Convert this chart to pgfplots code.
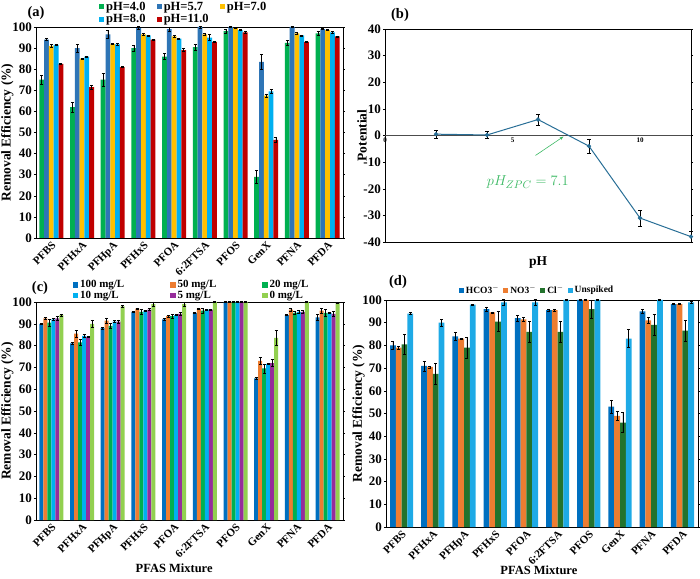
\documentclass[border=0pt]{standalone}
\usepackage{fontspec}
\setmainfont{Liberation Serif}
\usepackage{pgfplots}
\pgfplotsset{compat=1.18}
\usetikzlibrary{arrows.meta}

\definecolor{cGreen}{RGB}{0,176,80}
\definecolor{cBlue}{RGB}{46,117,182}
\definecolor{cGold}{RGB}{255,192,0}
\definecolor{cLBlue}{RGB}{0,176,240}
\definecolor{cRed}{RGB}{192,0,0}
\definecolor{dBlue}{RGB}{0,112,192}
\definecolor{dOrange}{RGB}{237,125,49}
\definecolor{dPurple}{RGB}{150,45,155}
\definecolor{dLGreen}{RGB}{146,208,80}
\definecolor{dDGreen}{RGB}{35,115,45}
\definecolor{dUnsp}{RGB}{30,170,230}
\definecolor{lineB}{RGB}{40,110,150}
\definecolor{zpc}{RGB}{60,185,100}

\pgfplotsset{
  sqlegend/.style={legend image code/.code={\fill[##1] (0pt,-2.6pt) rectangle (5.2pt,2.6pt);}},
  mybar/.style={
    scale only axis,
    ybar=0pt,
    ymin=0, ymax=100, ytick={0,10,...,100},
    xmin=-0.5, xmax=9.5, xtick={0,...,9},
    xticklabels={PFBS,PFHxA,PFHpA,PFHxS,PFOA,6:2FTSA,PFOS,GenX,PFNA,PFDA},
    xticklabel style={rotate=45, anchor=north east, inner sep=0.5pt, font=\fontsize{11}{12}\selectfont\bfseries},
    yticklabel style={font=\fontsize{13}{14}\selectfont\bfseries, inner sep=2pt},
    /pgf/number format/assume math mode=true,
    xtick style={draw=none},
    ytick style={black, thin}, tick align=outside, major tick length=2pt,
    axis line style={black, line width=0.8pt},
    clip=false,
    error bars/y dir=both, error bars/y explicit,
    error bars/error bar style={black, line width=0.6pt},
    error bars/error mark options={black, rotate=90, mark size=1.5pt, line width=0.6pt},
    every axis plot/.append style={sqlegend, draw=none},
    legend style={draw=none, fill=none, inner sep=0pt, outer sep=0pt},
    legend cell align=left,
  },
}

\begin{document}
\begin{tikzpicture}[x=1pt,y=1pt]
\useasboundingbox (0pt,0pt) rectangle (700pt,578pt);

% ---------------- (a)
\begin{axis}[mybar, at={(36pt,340pt)}, anchor=south west, width=307pt, height=211pt,
  bar width=4.8pt,
  ylabel={Removal Efficiency (\%)},
  ylabel style={at={(rel axis cs:-0.093,0.5)}, anchor=center, font=\fontsize{13.5}{14}\selectfont\bfseries},
  legend columns=3,
  legend style={at={(0.205,1.128)}, anchor=north west, font=\fontsize{12.5}{13}\selectfont\bfseries,
    /tikz/every even column/.append style={column sep=9pt}, row sep=-1.5pt},
]
\addplot[fill=cGreen] coordinates {(0,75)+-(0,2) (1,62)+-(0,2.5) (2,75)+-(0,3) (3,90)+-(0,1.3) (4,86)+-(0,1.3) (5,90.5)+-(0,1.5) (6,98)+-(0,0.8) (7,29)+-(0,3) (8,92.5)+-(0,1.3) (9,97)+-(0,0.8)};
\addplot[fill=cBlue] coordinates {(0,94)+-(0,0.5) (1,90)+-(0,1.8) (2,96.5)+-(0,1.8) (3,99.5)+-(0,0.8) (4,99)+-(0,1) (5,100)+-(0,0.5) (6,100)+-(0,0.3) (7,83.5)+-(0,3.5) (8,100)+-(0,0.3) (9,99)+-(0,0.3)};
\addplot[fill=cGold] coordinates {(0,91)+-(0,0.6) (1,85)+-(0,0.3) (2,92)+-(0,0.3) (3,96.5)+-(0,0.5) (4,95.5)+-(0,0.6) (5,96.5)+-(0,0.6) (6,99.5)+-(0,0.3) (7,67.5)+-(0,0.8) (8,97)+-(0,0.5) (9,98.5)+-(0,0.3)};
\addplot[fill=cLBlue] coordinates {(0,91.5)+-(0,0.3) (1,86)+-(0,0.3) (2,91.8)+-(0,0.3) (3,96)+-(0,0.3) (4,94.5)+-(0,0.3) (5,95)+-(0,1.5) (6,98.5)+-(0,0.3) (7,69.5)+-(0,0.8) (8,96)+-(0,0.3) (9,97.5)+-(0,0.5)};
\addplot[fill=cRed] coordinates {(0,82.5)+-(0,0.3) (1,71.5)+-(0,1) (2,81)+-(0,0.3) (3,94)+-(0,0.3) (4,89)+-(0,0.7) (5,93)+-(0,0.3) (6,97.5)+-(0,0.3) (7,46.5)+-(0,1.2) (8,93)+-(0,0.3) (9,95.5)+-(0,0.3)};
\legend{pH=4.0,pH=5.7,pH=7.0,pH=8.0,pH=11.0}
\end{axis}
\node[font=\fontsize{14.5}{15}\selectfont\bfseries] at (36pt,565pt) {(a)};

% ---------------- (b)
\begin{axis}[scale only axis, at={(385pt,336pt)}, anchor=south west, width=306pt, height=213pt,
  xmin=0, xmax=12, ymin=-40, ymax=40, ytick={-40,-30,...,40}, xtick={0,5,10}, xticklabels={},
  xtick style={draw=none},
  yticklabel style={font=\fontsize{13}{14}\selectfont\bfseries, inner sep=2pt},
  /pgf/number format/assume math mode=true,
  ytick style={black, thin}, tick align=outside, major tick length=2pt,
  axis line style={black, line width=0.8pt},
  clip=false,
  xlabel={pH}, ylabel={Potential},
  xlabel style={at={(rel axis cs:0.5,0)}, anchor=center, yshift=-21pt, font=\fontsize{13.5}{14}\selectfont\bfseries},
  ylabel style={at={(rel axis cs:-0.075,0.5)}, anchor=center, font=\fontsize{13.5}{14}\selectfont\bfseries},
]
\addplot[color=black!70, line width=1.3pt, forget plot] coordinates {(0,0) (12,0)};
\addplot[color=lineB, line width=1pt, mark=*, mark size=1.6pt, mark options={fill=lineB},
  error bars/.cd, y dir=both, y explicit,
  error bar style={black, line width=0.6pt},
  error mark options={black, rotate=90, mark size=1.8pt, line width=0.6pt}]
  coordinates {(2,0.5)+-(0,1.5) (4,0.2)+-(0,1.3) (6,6)+-(0,2) (8,-4)+-(0,2.5) (10,-31)+-(0,3) (12,-38)+-(0,2)};
\node[anchor=north, font=\fontsize{7}{8}\selectfont\bfseries, inner sep=2pt] at (axis cs:0,0) {0};
\node[anchor=north, font=\fontsize{7}{8}\selectfont\bfseries, inner sep=2pt] at (axis cs:5,0) {5};
\node[anchor=north, font=\fontsize{7}{8}\selectfont\bfseries, inner sep=2pt] at (axis cs:10,0) {10};
\draw[-{Stealth[length=4pt]}, zpc, line width=0.6pt] (axis cs:5.9,-7.5) -- (axis cs:7.0,-0.4);
\node[text=zpc, font=\fontsize{15}{16}\selectfont] at (axis cs:5.6,-17.5) {$pH_{ZPC}=7.1$};
\end{axis}
\node[font=\fontsize{14.5}{15}\selectfont\bfseries] at (400pt,563pt) {(b)};

% ---------------- (c)
\begin{axis}[mybar, at={(36pt,58pt)}, anchor=south west, width=307pt, height=218pt,
  bar width=4pt,
  ylabel={Removal Efficiency (\%)},
  ylabel style={at={(rel axis cs:-0.093,0.5)}, anchor=center, font=\fontsize{13.5}{14}\selectfont\bfseries},
  xlabel={PFAS Mixture},
  xlabel style={at={(rel axis cs:0.45,0)}, anchor=center, yshift=-48pt, font=\fontsize{12.5}{13}\selectfont\bfseries},
  legend columns=3,
  legend style={at={(0.12,1.107)}, anchor=north west, font=\fontsize{11}{11}\selectfont\bfseries,
    /tikz/every even column/.append style={column sep=44pt}, row sep=-2pt},
]
\addplot[fill=dBlue] coordinates {(0,90)+-(0,0.3) (1,81)+-(0,0.3) (2,88)+-(0,0.3) (3,95.5)+-(0,0.3) (4,92)+-(0,0.3) (5,95)+-(0,0.3) (6,100)+-(0,0.2) (7,65)+-(0,0.5) (8,94)+-(0,0.3) (9,93)+-(0,1.2)};
\addplot[fill=dOrange] coordinates {(0,92.5)+-(0,0.5) (1,85.5)+-(0,1.5) (2,91.5)+-(0,1.2) (3,97)+-(0,0.3) (4,93.5)+-(0,0.5) (5,97)+-(0,0.3) (6,100)+-(0,0.2) (7,73)+-(0,1.5) (8,96.5)+-(0,0.8) (9,96)+-(0,1)};
\addplot[fill=cGreen] coordinates {(0,90.5)+-(0,1.5) (1,81.5)+-(0,1.2) (2,89)+-(0,1.2) (3,95.5)+-(0,1.2) (4,93.5)+-(0,0.8) (5,96)+-(0,1) (6,100)+-(0,0.2) (7,69.5)+-(0,2) (8,95)+-(0,0.8) (9,95)+-(0,1.5)};
\addplot[fill=cLBlue] coordinates {(0,92)+-(0,0.3) (1,84.5)+-(0,0.5) (2,91)+-(0,0.5) (3,96)+-(0,0.3) (4,94)+-(0,0.3) (5,96.5)+-(0,0.3) (6,100)+-(0,0.2) (7,71.5)+-(0,0.3) (8,95.5)+-(0,0.8) (9,95)+-(0,0.3)};
\addplot[fill=dPurple] coordinates {(0,92.5)+-(0,0.8) (1,84)+-(0,0.3) (2,91)+-(0,0.8) (3,96.5)+-(0,0.5) (4,94.5)+-(0,0.8) (5,96.5)+-(0,0.3) (6,100)+-(0,0.2) (7,72)+-(0,1.5) (8,95.5)+-(0,0.5) (9,94.5)+-(0,1.2)};
\addplot[fill=dLGreen] coordinates {(0,94)+-(0,0.5) (1,90)+-(0,1.8) (2,98)+-(0,0.3) (3,99)+-(0,1) (4,99)+-(0,0.8) (5,100)+-(0,0.3) (6,100)+-(0,0.2) (7,83.5)+-(0,3.5) (8,100)+-(0,0.3) (9,99.5)+-(0,0.3)};
\legend{100 mg/L,50 mg/L,20 mg/L,10 mg/L,5 mg/L,0 mg/L}
\end{axis}
\node[font=\fontsize{14.5}{15}\selectfont\bfseries] at (40pt,290pt) {(c)};

% ---------------- (d)
\begin{axis}[mybar, at={(386pt,51pt)}, anchor=south west, width=312pt, height=227pt,
  bar width=5.8pt,
  ylabel={Removal Efficiency (\%)},
  ylabel style={at={(rel axis cs:-0.088,0.5)}, anchor=center, font=\fontsize{13.5}{14}\selectfont\bfseries},
  xlabel={PFAS Mixture},
  xlabel style={at={(rel axis cs:0.49,0)}, anchor=center, yshift=-43.5pt, font=\fontsize{12.5}{13}\selectfont\bfseries},
  legend columns=4,
  legend style={at={(0.484,1.012)}, anchor=south, font=\fontsize{9.5}{10}\selectfont\bfseries,
    /tikz/every even column/.append style={column sep=2pt}},
]
\addplot[fill=dBlue] coordinates {(0,80)+-(0,1.8) (1,71)+-(0,2.2) (2,84)+-(0,1.8) (3,96)+-(0,1) (4,92)+-(0,1.2) (5,95.5)+-(0,0.5) (6,100)+-(0,0.2) (7,53)+-(0,3) (8,95)+-(0,0.8) (9,98.2)+-(0,0.2)};
\addplot[fill=dOrange] coordinates {(0,79)+-(0,0.8) (1,70.5)+-(0,0.5) (2,83)+-(0,0.3) (3,94.5)+-(0,0.3) (4,91.5)+-(0,0.8) (5,95.5)+-(0,0.5) (6,100)+-(0,0.2) (7,49)+-(0,2) (8,91)+-(0,1.2) (9,98.2)+-(0,0.2)};
\addplot[fill=dDGreen] coordinates {(0,80.5)+-(0,4.5) (1,67.5)+-(0,4.5) (2,79)+-(0,4.5) (3,90.5)+-(0,4.5) (4,86)+-(0,4.5) (5,86)+-(0,4.5) (6,96)+-(0,4) (7,46)+-(0,4.5) (8,89)+-(0,4.5) (9,86.5)+-(0,4.5)};
\addplot[fill=dUnsp] coordinates {(0,94)+-(0,0.5) (1,90)+-(0,1.5) (2,98)+-(0,0.2) (3,99)+-(0,1.2) (4,99)+-(0,1.2) (5,100)+-(0,0.3) (6,100)+-(0,0.2) (7,83)+-(0,4) (8,100)+-(0,0.3) (9,99)+-(0,0.3)};
\legend{HCO3$^{-}$,NO3$^{-}$,Cl$^{-}$,Unspiked}
\end{axis}
\node[font=\fontsize{14.5}{15}\selectfont\bfseries] at (398pt,296pt) {(d)};
\end{tikzpicture}
\end{document}
